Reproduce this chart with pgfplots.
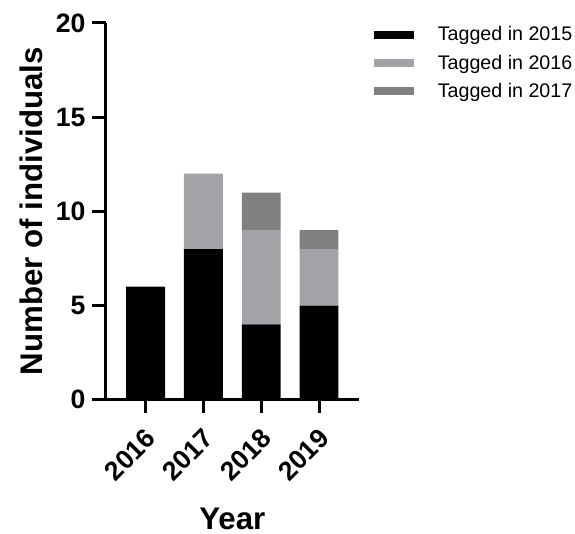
\documentclass[border=0pt]{standalone}
\usepackage{pgfplots}
\pgfplotsset{compat=1.18}
\usepackage{fontspec}
\setmainfont{Liberation Sans}
\definecolor{lg}{RGB}{163,163,167}
\definecolor{dg}{RGB}{128,128,128}
\begin{document}
\begin{tikzpicture}
\begin{axis}[
  scale only axis,
  width=190.5pt, height=283.5pt,
  ybar stacked,
  bar width=29.25pt,
  xmin=-0.69, xmax=3.69,
  ymin=0, ymax=20,
  ytick={0,5,10,15,20},
  xtick={0,1,2,3},
  xticklabels={2016,2017,2018,2019},
  axis x line=bottom, axis y line=left,
  axis line style={line width=2.25pt, -},
  tick style={line width=2.25pt, black},
  major tick length=10pt,
  tick align=outside,
  axis on top,
  /pgf/number format/assume math mode=true,
  tick label style={font=\fontsize{20}{23}\selectfont\bfseries},
  yticklabel style={inner sep=1pt, xshift=-4pt},
  xticklabel style={xshift=-1pt, yshift=-9pt, rotate=45, anchor=north east, inner sep=1pt},
  ylabel={Number of individuals},
  ylabel style={font=\fontsize{23.5}{27}\selectfont\bfseries, yshift=5pt},
  xlabel={Year},
  xlabel style={font=\fontsize{23.5}{27}\selectfont\bfseries, yshift=-14pt},
  legend style={at={(0.998,0.998)}, anchor=north west, draw=none, fill=none, inner sep=0pt,
    xshift=11.25pt,
    font=\fontsize{14.8}{17}\selectfont, row sep=5pt, cells={anchor=west}},
  legend image code/.code={\fill[#1] (0pt,-3pt) rectangle (30pt,3pt);},
  /tikz/every odd column/.append style={column sep=16.25pt},
]
\addplot[fill=black, draw=none] coordinates {(0,6) (1,8) (2,4) (3,5)};
\addplot[fill=lg, draw=none] coordinates {(0,0) (1,4) (2,5) (3,3)};
\addplot[fill=dg, draw=none] coordinates {(0,0) (1,0) (2,2) (3,1)};
\legend{Tagged in 2015, Tagged in 2016, Tagged in 2017}
\end{axis}
\path (-79.5pt,-97.5pt) rectangle (351.75pt,300.75pt);
\end{tikzpicture}
\end{document}
